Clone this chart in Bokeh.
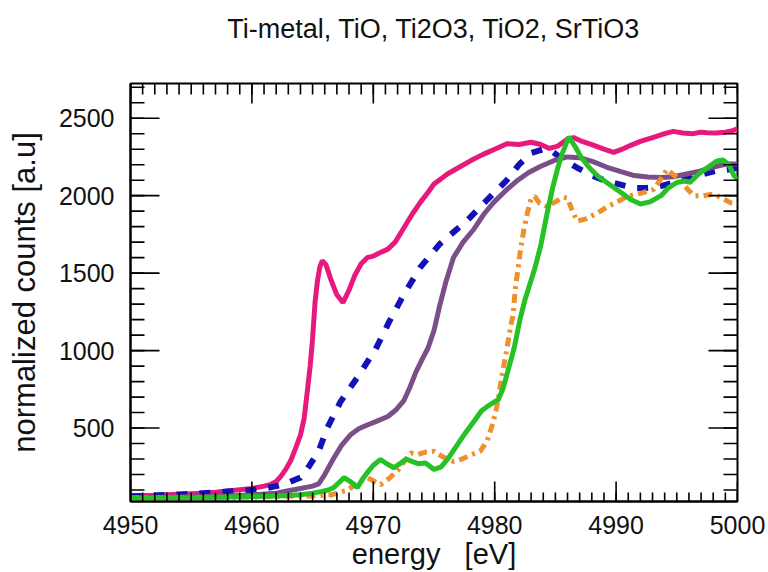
import math
from bokeh.plotting import figure
from bokeh.models import Range1d, LinearAxis, FixedTicker
from bokeh.embed import file_html
from bokeh.resources import INLINE

# ---------------- data ----------------
title_text = "Ti-metal, TiO, Ti2O3, TiO2, SrTiO3"
x_label = "energy\u00a0\u00a0\u00a0[eV]"
y_label = "normalized counts [a.u]"
x_ticks = [4950, 4960, 4970, 4980, 4990, 5000]
y_ticks = [500, 1000, 1500, 2000, 2500]
x_minor_ticks = list(range(4950, 5001))
y_minor_ticks = list(range(100, 2701, 100))

ti_metal_e = [4950.0, 4951, 4952, 4953, 4954, 4955, 4956, 4957, 4958, 4959, 4960, 4961, 4961.5, 4962,
              4962.4, 4962.8, 4963.2, 4963.6, 4964.0, 4964.3, 4964.6, 4964.8, 4965.0, 4965.2, 4965.4,
              4965.6, 4965.8, 4966.1, 4966.5, 4967.0, 4967.5, 4968.0, 4968.5, 4969.0, 4969.5, 4970.0,
              4970.5, 4971.2, 4971.8, 4972.5, 4973.2, 4973.9, 4974.5, 4975.0, 4975.6, 4976.1, 4977.0,
              4978.0, 4979.0, 4980.0, 4981.0, 4982.0, 4983.0, 4983.8, 4984.5, 4985.2, 4986.0, 4986.5,
              4987.2, 4988.0, 4989.0, 4989.8, 4990.5, 4991.2, 4992.0, 4993.0, 4994.0, 4994.7, 4995.5,
              4996.3, 4997.0, 4997.5, 4998.2, 4999.0, 4999.6, 5000.0]
ti_metal_v = [62, 64, 66, 70, 72, 76, 80, 86, 94, 102, 110, 125, 135, 155,
              190, 235, 290, 370, 455, 560, 760, 900, 1080, 1310, 1450,
              1540, 1580, 1555, 1460, 1360, 1310, 1390, 1490, 1560, 1600, 1610,
              1630, 1655, 1700, 1790, 1880, 1960, 2020, 2075, 2110, 2140, 2180,
              2225, 2265, 2300, 2335, 2330, 2345, 2330, 2305, 2320, 2365, 2375,
              2350, 2330, 2300, 2280, 2300, 2325, 2350, 2375, 2400, 2415, 2405,
              2400, 2410, 2406, 2405, 2410, 2420, 2432]

tio_e = [4950, 4952, 4954, 4956, 4958, 4960, 4961, 4962, 4962.8, 4963.5, 4964, 4964.6, 4965, 4965.4,
         4966.2, 4967.3, 4968.8, 4970.2, 4971.3, 4972.5, 4973.9, 4975.5, 4977.8, 4979.4, 4981, 4982,
         4983, 4984, 4984.8, 4985.5, 4986.8, 4988, 4989, 4990.2, 4991.4, 4992.5, 4993.4, 4994.5,
         4995.6, 4997, 4998.2, 4999.4, 5000]
tio_v = [60, 65, 72, 80, 90, 100, 110, 125, 140, 165, 180, 240, 290, 330,
         500, 670, 840, 1010, 1185, 1360, 1540, 1690, 1845, 1975, 2100, 2200,
         2275, 2300, 2282, 2240, 2180, 2130, 2100, 2075, 2050, 2050, 2055, 2080,
         2107, 2135, 2160, 2170, 2180]

ti2o3_e = [4950, 4952, 4954, 4956, 4958, 4960, 4962, 4963, 4964, 4965, 4965.5, 4966, 4966.7, 4967.4,
           4968.1, 4968.8, 4969.5, 4970.3, 4971.2, 4971.9, 4972.5, 4973.0, 4973.5, 4974.0, 4974.5,
           4975.0, 4975.5, 4976.0, 4976.6, 4977.4, 4978.3, 4979.1, 4979.9, 4981, 4981.9, 4982.8,
           4983.8, 4985, 4986, 4987, 4988.1, 4989.2, 4990.4, 4991.5, 4992.6, 4993.7, 4994.7, 4995.8,
           4996.9, 4998, 4999.2, 5000]
ti2o3_v = [50, 52, 55, 58, 62, 68, 80, 95, 110, 125, 140, 200, 300, 390,
           455, 495, 520, 545, 575, 620, 675, 760, 860, 940, 1015,
           1130, 1300, 1450, 1600, 1700, 1785, 1880, 1955, 2040, 2100, 2150,
           2190, 2230, 2250, 2245, 2220, 2185, 2155, 2130, 2120, 2117, 2122, 2140,
           2158, 2185, 2205, 2205]

srtio3_e = [4950, 4955, 4960, 4963, 4965, 4966.5, 4967.2, 4967.9, 4968.6, 4969.5, 4970.0, 4970.6, 4971.3,
            4972.0, 4972.6, 4973.1, 4973.7, 4974.3, 4975.0, 4975.6, 4976.1, 4976.6, 4977.3, 4978.0,
            4978.8, 4979.4, 4979.8, 4980.1, 4980.3, 4980.6, 4981.0, 4981.3, 4981.5, 4981.7, 4982.1,
            4982.4, 4982.7, 4983.0, 4983.3, 4983.7, 4984.3, 4985.0, 4985.6, 4986.0, 4986.4, 4986.8,
            4987.5, 4988.5, 4989.3, 4990.1, 4990.9, 4992.0, 4993.1, 4993.7, 4994.2, 4994.8, 4995.3,
            4995.9, 4996.4, 4997.2, 4998.0, 4998.6, 4999.4, 5000]
srtio3_v = [48, 50, 55, 60, 62, 68, 85, 100, 140, 180, 160, 135, 175,
            225, 290, 340, 330, 345, 350, 320, 300, 285, 300, 325,
            350, 420, 520, 610, 690, 840, 1010, 1150, 1225, 1400, 1635,
            1780, 1890, 1980, 1995, 1950, 1930, 1960, 1990, 1985, 1900, 1835,
            1850, 1890, 1930, 1960, 1995, 2015, 2040, 2110, 2170, 2130, 2100,
            2040, 2000, 2000, 2010, 1990, 1955, 1945]

tio2_e = [4950, 4952, 4954, 4956, 4958, 4960, 4962, 4963, 4964, 4965, 4965.7, 4966.3, 4966.75, 4967.2,
          4967.6, 4968.2, 4968.7, 4969.1, 4969.5, 4970.0, 4970.6, 4971.1, 4971.7, 4972.2, 4972.7,
          4973.1, 4973.7, 4974.3, 4975.0, 4975.6, 4976.2, 4976.9, 4977.6, 4978.3, 4978.9, 4979.4,
          4979.9, 4980.3, 4980.7, 4981.0, 4981.3, 4981.6, 4982.1, 4982.5, 4982.9, 4983.3, 4983.8,
          4984.3, 4984.8, 4985.2, 4985.6, 4986.1, 4986.6, 4987.1, 4987.8, 4988.5, 4989.4, 4990.4,
          4991.2, 4992.0, 4992.8, 4993.7, 4994.3, 4995.0, 4995.6, 4996.1, 4996.8, 4997.5, 4998.3,
          4998.8, 4999.3, 4999.7, 5000]
tio2_v = [45, 48, 50, 52, 55, 58, 62, 65, 70, 80, 90, 100, 116, 150,
          180, 150, 116, 170, 212, 260, 297, 270, 244, 270, 300,
          287, 270, 275, 233, 250, 308, 390, 470, 544, 610, 640,
          665, 683, 760, 843, 930, 1015, 1207, 1330, 1430, 1530, 1680,
          1880, 2060, 2180, 2280, 2380, 2320, 2250, 2180, 2125, 2075, 2020,
          1975, 1946, 1960, 2000, 2050, 2085, 2095, 2087, 2140, 2180, 2224,
          2230, 2200, 2130, 2107]

# ---------------- figure ----------------
FONT = "Liberation Sans"
X0, X1 = 4950, 5000
Y0, Y1 = 26, 2724
p = figure(width=766, height=572, output_backend="svg", toolbar_location=None, title=None,
           x_range=Range1d(X0, X1), y_range=Range1d(Y0, Y1),
           min_border_left=130, min_border_right=29, min_border_top=83, min_border_bottom=68,
           x_axis_type=None, y_axis_type=None)
p.xgrid.visible = False
p.ygrid.visible = False
p.outline_line_color = "black"
p.outline_line_width = 2
p.background_fill_color = "white"
p.border_fill_color = "white"

xt = FixedTicker(ticks=x_ticks, minor_ticks=[])
yt = FixedTicker(ticks=y_ticks, minor_ticks=[])


def style_axis(ax):
    ax.major_tick_in = 0
    ax.major_tick_out = 0
    ax.minor_tick_in = 0
    ax.minor_tick_out = 0
    ax.axis_line_width = 2
    ax.axis_line_color = "black"
    ax.major_tick_line_color = None
    ax.minor_tick_line_color = None
    ax.major_label_text_font = FONT
    ax.major_label_text_font_size = "25px"
    ax.major_label_text_color = "#111111"
    ax.axis_label_text_font = FONT
    ax.axis_label_text_font_style = "normal"
    ax.axis_label_text_color = "#111111"


xb = LinearAxis(ticker=xt, axis_label=x_label)
style_axis(xb)
xb.major_label_standoff = 14
xb.axis_label_text_font_size = "29px"
xb.axis_label_standoff = 1
p.add_layout(xb, "below")

yl = LinearAxis(ticker=yt, axis_label=y_label)
style_axis(yl)
yl.major_label_standoff = 16
yl.axis_label_text_font_size = "31px"
yl.axis_label_standoff = 14
p.add_layout(yl, "left")

# title drawn as the label of a tick-less top axis, centred over the frame
xa = LinearAxis(ticker=FixedTicker(ticks=[], minor_ticks=[]), axis_label=title_text)
style_axis(xa)
xa.axis_line_color = None
xa.major_label_standoff = 0
xa.axis_label_text_font_size = "27px"
xa.axis_label_standoff = 40
p.add_layout(xa, "above")

# ---------------- curves ----------------
p.line(ti_metal_e, ti_metal_v, line_color="#e8197c", line_width=5)
p.line(tio_e, tio_v, line_color="#1212b8", line_width=6, line_dash="11 12")
p.line(ti2o3_e, ti2o3_v, line_color="#7a4f88", line_width=5)
p.line(srtio3_e, srtio3_v, line_color="#f0902c", line_width=5, line_dash="9 5 3 5")
p.line(tio2_e, tio2_v, line_color="#25c125", line_width=5)

# ---------------- inward tick marks on all four sides ----------------
TK = dict(line_color="black", line_width=1.6, length_units="screen")
p.ray(x=x_ticks, y=[Y0] * len(x_ticks), length=20, angle=math.pi / 2, **TK)
p.ray(x=x_ticks, y=[Y1] * len(x_ticks), length=20, angle=-math.pi / 2, **TK)
p.ray(x=x_minor_ticks, y=[Y0] * len(x_minor_ticks), length=9, angle=math.pi / 2, **TK)
p.ray(x=x_minor_ticks, y=[Y1] * len(x_minor_ticks), length=11, angle=-math.pi / 2, **TK)
p.ray(x=[X0] * len(y_ticks), y=y_ticks, length=29, angle=0, **TK)
p.ray(x=[X1] * len(y_ticks), y=y_ticks, length=29, angle=math.pi, **TK)
p.ray(x=[X0] * len(y_minor_ticks), y=y_minor_ticks, length=14, angle=0, **TK)
p.ray(x=[X1] * len(y_minor_ticks), y=y_minor_ticks, length=14, angle=math.pi, **TK)

open("out.html", "w").write(file_html(p, INLINE))
